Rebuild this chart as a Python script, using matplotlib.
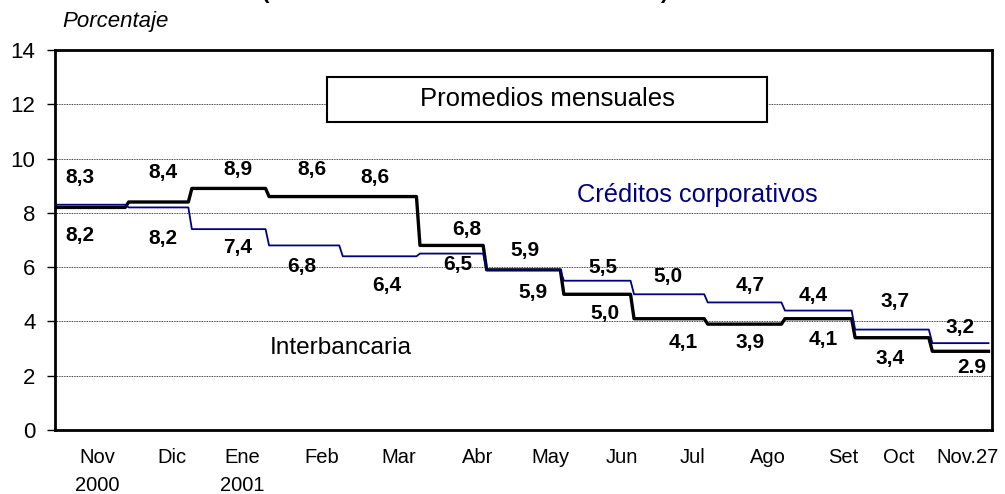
import numpy as np
import matplotlib
matplotlib.use('Agg')
import matplotlib.pyplot as plt
from matplotlib.patches import Rectangle

plt.rcParams['font.family'] = ['Liberation Sans', 'DejaVu Sans']

# Monthly averages (percent), Nov 2000 - Nov 27 2001
meses = ['Nov\n2000', 'Dic', 'Ene\n2001', 'Feb', 'Mar', 'Abr', 'May', 'Jun',
         'Jul', 'Ago', 'Set', 'Oct', 'Nov.27']
dias_habiles = [21, 18, 22, 21, 22, 19, 22, 20, 21, 22, 20, 22, 17]
interbancaria = [8.2, 8.4, 8.9, 8.6, 8.6, 6.8, 5.9, 5.0, 4.1, 3.9, 4.1, 3.4, 2.9]
corporativos = [8.3, 8.2, 7.4, 6.8, 6.4, 6.5, 5.9, 5.5, 5.0, 4.7, 4.4, 3.7, 3.2]

# layout: tick label positions (business-day index) and value label positions
tick_pos = [12.0, 33.3, 53.3, 76.1, 98.0, 120.5, 141.3, 161.5, 181.8, 203.1,
            224.5, 240.5, 260.1]
sup_pos = [(7.1, 9.32), (30.8, 9.47), (52.1, 9.58), (73.2, 9.58), (91.2, 9.32),
           (117.4, 7.37), (133.9, 6.63), (156.1, 5.97), (174.6, 5.64),
           (198.0, 5.34), (216.0, 4.97), (239.3, 4.72), (257.8, 3.76)]
inf_pos = [(7.1, 7.18), (30.8, 7.07), (52.1, 6.71), (70.4, 6.01), (94.6, 5.34),
           (114.8, 6.08), (136.2, 5.05), (156.7, 4.31), (178.9, 3.24),
           (198.0, 3.24), (218.8, 3.32), (237.9, 2.65), (261.3, 2.32)]

W, H = 1005, 494
fig = plt.figure(figsize=(W / 100, H / 100), dpi=100)
ax = fig.add_axes([55 / W, 1 - 430 / H, (992 - 55) / W, (430 - 50) / H])

# daily series built from the monthly averages
dias = np.arange(sum(dias_habiles))
ax.plot(dias, np.repeat(interbancaria, dias_habiles), color='black', lw=2.4,
        zorder=3)
ax.plot(dias, np.repeat(corporativos, dias_habiles), color='#000080', lw=1.3,
        zorder=4)

ax.set_xlim(0, sum(dias_habiles))
ax.set_ylim(0, 14)
ax.set_yticks(range(0, 15, 2))
ax.set_xticks(tick_pos)
ax.set_xticklabels(meses, fontsize=14.5, linespacing=1.6)
ax.tick_params(axis='x', length=0, pad=13)
ax.tick_params(axis='y', length=6, width=1, labelsize=16, pad=8)
ax.yaxis.grid(True, color='black', linestyle=(0, (1, 1)), linewidth=0.6)
for s in ax.spines.values():
    s.set_linewidth(2)

# value labels
for k in range(len(meses)):
    hi = max(interbancaria[k], corporativos[k])
    lo = min(interbancaria[k], corporativos[k])
    t_hi = f'{hi:.1f}'.replace('.', ',')
    t_lo = f'{lo:.1f}'.replace('.', ',')
    if k == len(meses) - 1:
        t_lo = f'{lo:.1f}'  # written with a point in the original
    ax.text(*sup_pos[k], t_hi, ha='center', va='center', fontsize=15,
            fontweight='bold', zorder=6)
    ax.text(*inf_pos[k], t_lo, ha='center', va='center', fontsize=15,
            fontweight='bold', zorder=6)

ax.text(148.7, 8.66, 'Créditos corporativos', color='#000080', fontsize=18.3,
        ha='left', va='center')
ax.text(61.3, 3.02, 'Interbancaria', color='black', fontsize=17.6,
        ha='left', va='center')

ax.add_patch(Rectangle((77.5, 11.35), 125.3, 1.65, facecolor='white',
                       edgecolor='black', lw=1.5, zorder=5))
ax.text(140.2, 12.18, 'Promedios mensuales', fontsize=18.5, ha='center',
        va='center', zorder=6)

fig.text(62 / W, 1 - 22 / H, 'Porcentaje', fontsize=16, style='italic',
         ha='left', va='center')
fig.text(465 / W, 1 + 2 / H, '(Tasas de interés en moneda nacional)',
         fontsize=16, fontweight='bold', ha='center', va='baseline')

fig.savefig('out.png', dpi=100)
